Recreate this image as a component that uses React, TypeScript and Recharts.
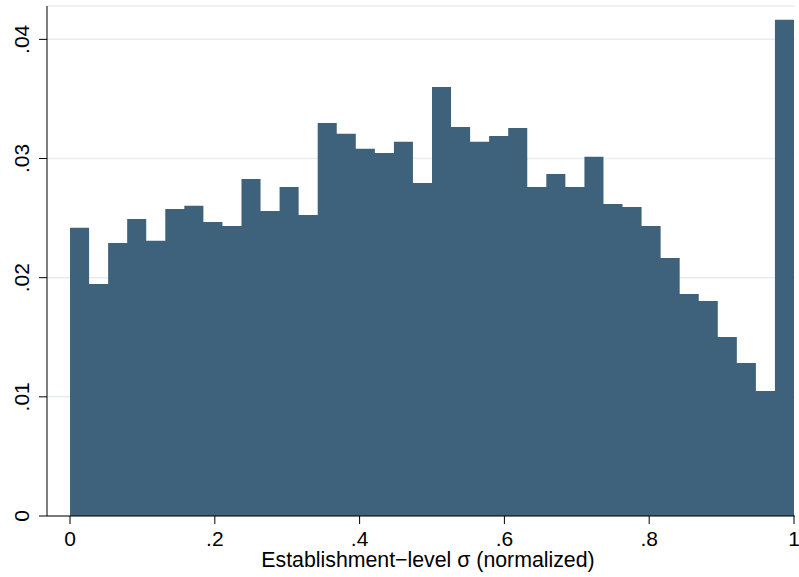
import React from 'react';
import { ComposedChart, Area, XAxis, YAxis, CartesianGrid, Label } from 'recharts';

// histogram densities, 38 equal bins on [0, 1]
const binHeights = [
  0.02418, 0.01948, 0.02292, 0.02493, 0.02309, 0.02577, 0.02603, 0.02468, 0.02434, 0.02829,
  0.02559, 0.02762, 0.02527, 0.03299, 0.03207, 0.03081, 0.03047, 0.0314, 0.02795, 0.03601,
  0.03265, 0.0314, 0.0319, 0.03257, 0.02762, 0.02871, 0.02762, 0.03014, 0.02619, 0.02593,
  0.02434, 0.02166, 0.01864, 0.01805, 0.01503, 0.01284, 0.01049, 0.04164,
];
const xTicks = [0, 0.2, 0.4, 0.6, 0.8, 1];
const yTicks = [0, 0.01, 0.02, 0.03, 0.04];
const xTitle = 'Establishment\u2212level \u03c3 (normalized)';

const BAR_COLOR = '#3e627b';
const FONT = '"Liberation Sans", Arial, Helvetica, sans-serif';

// step area needs the left edge of every bin plus the closing edge at 1
const nBins = binHeights.length;
const data = binHeights
  .map((h, i) => ({ x: i / nBins, density: h }))
  .concat([{ x: 1, density: binHeights[nBins - 1] }]);

// Stata style labels: drop the leading zero
const fmt = (v: number) => (v === 0 ? '0' : v === 1 ? '1' : String(v).replace(/^0/, ''));

const XTick = ({ x, payload }: any) => (
  <text x={x} y={546} textAnchor="middle" fontSize={21} fontFamily={FONT} fill="#000">
    {fmt(payload.value)}
  </text>
);

const YTick = ({ y, payload }: any) => (
  <text
    transform={`translate(28.5, ${y}) rotate(-90)`}
    textAnchor="middle"
    fontSize={21}
    fontFamily={FONT}
    fill="#000"
  >
    {fmt(payload.value)}
  </text>
);

const AxisTitle = () => (
  <text x={428} y={567} textAnchor="middle" fontSize={21.3} fontFamily={FONT} fill="#000">
    {xTitle}
  </text>
);

export default function App() {
  return (
    <div style={{ position: 'absolute', left: 0, top: 0, background: '#fff' }}>
      <ComposedChart
        width={799}
        height={577}
        data={data}
        margin={{ top: 6, right: 4, left: 0, bottom: 0 }}
      >
        <CartesianGrid vertical={false} stroke="#e6eef2" strokeWidth={1.5} />
        <XAxis
          dataKey="x"
          type="number"
          domain={[-0.0318, 1.0014]}
          ticks={xTicks}
          allowDataOverflow
          height={61}
          tickSize={8}
          tick={<XTick />}
          axisLine={{ stroke: '#000', strokeWidth: 1 }}
          tickLine={{ stroke: '#000', strokeWidth: 1 }}
        >
          <Label content={<AxisTitle />} />
        </XAxis>
        <YAxis
          type="number"
          domain={[0, 0.0428]}
          ticks={yTicks}
          allowDataOverflow
          width={47}
          tickSize={8}
          tick={<YTick />}
          axisLine={{ stroke: '#000', strokeWidth: 1 }}
          tickLine={{ stroke: '#000', strokeWidth: 1 }}
        />
        <Area
          type="stepAfter"
          dataKey="density"
          fill={BAR_COLOR}
          fillOpacity={1}
          stroke="none"
          isAnimationActive={false}
          dot={false}
          activeDot={false}
        />
      </ComposedChart>
    </div>
  );
}
